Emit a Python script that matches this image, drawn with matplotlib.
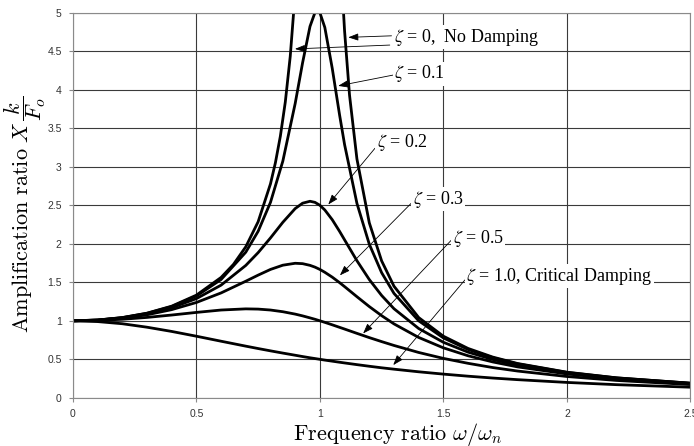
import matplotlib
matplotlib.use("Agg")
import matplotlib.pyplot as plt

# frequency ratio samples for the damped curves
r = [0, 0.1, 0.2, 0.3, 0.4, 0.5, 0.6, 0.7, 0.75, 0.8, 0.85, 0.9, 0.93, 0.96, 0.98, 1.0,
     1.02, 1.05, 1.08, 1.1, 1.15, 1.2, 1.25, 1.3, 1.4, 1.5, 1.6, 1.7, 1.8, 2.0, 2.2, 2.5]

zeta_01 = [1.000, 1.010, 1.041, 1.097, 1.185, 1.322, 1.536, 1.891, 2.162, 2.538, 3.073, 3.821, 4.350, 4.822, 5.001, 5.000,
           4.809, 4.279, 3.668, 3.288, 2.525, 1.995, 1.625, 1.356, 1.000, 0.778, 0.628, 0.521, 0.441, 0.330, 0.259, 0.190]
zeta_02 = [1.000, 1.009, 1.038, 1.090, 1.170, 1.288, 1.463, 1.719, 1.885, 2.076, 2.279, 2.457, 2.527, 2.552, 2.538, 2.500,
           2.439, 2.313, 2.160, 2.051, 1.780, 1.536, 1.329, 1.157, 0.900, 0.721, 0.593, 0.498, 0.425, 0.322, 0.254, 0.187]
zeta_03 = [1.000, 1.008, 1.034, 1.078, 1.145, 1.238, 1.362, 1.514, 1.593, 1.667, 1.722, 1.747, 1.742, 1.720, 1.697, 1.667,
           1.630, 1.567, 1.495, 1.444, 1.313, 1.185, 1.067, 0.960, 0.784, 0.649, 0.546, 0.466, 0.402, 0.310, 0.246, 0.183]
zeta_05 = [1.000, 1.005, 1.020, 1.044, 1.075, 1.109, 1.140, 1.155, 1.152, 1.140, 1.118, 1.087, 1.064, 1.038, 1.020, 1.000,
           0.980, 0.948, 0.915, 0.893, 0.837, 0.782, 0.730, 0.680, 0.589, 0.512, 0.448, 0.393, 0.348, 0.277, 0.226, 0.172]
zeta_10 = [1.000, 0.990, 0.962, 0.917, 0.862, 0.800, 0.735, 0.671, 0.640, 0.610, 0.581, 0.553, 0.536, 0.520, 0.510, 0.500,
           0.490, 0.476, 0.462, 0.453, 0.431, 0.410, 0.390, 0.372, 0.338, 0.308, 0.281, 0.257, 0.236, 0.200, 0.171, 0.138]

# undamped curve, two branches either side of resonance
r_undamped_lo = [0, 0.1, 0.2, 0.3, 0.4, 0.5, 0.6, 0.65, 0.7, 0.75, 0.8, 0.82, 0.84, 0.86, 0.88, 0.9]
zeta_0_lo = [1.000, 1.010, 1.042, 1.099, 1.190, 1.333, 1.563, 1.732, 1.961, 2.286, 2.778, 3.053, 3.397, 3.840, 4.433, 5.263]
r_undamped_hi = [1.09, 1.1, 1.12, 1.15, 1.2, 1.25, 1.3, 1.4, 1.5, 1.6, 1.7, 1.8, 2.0, 2.2, 2.5]
zeta_0_hi = [5.322, 4.762, 3.931, 3.101, 2.273, 1.778, 1.449, 1.042, 0.800, 0.641, 0.529, 0.446, 0.333, 0.260, 0.190]

xticks = [0, 0.5, 1, 1.5, 2, 2.5]
xticklabels = ["0", "0.5", "1", "1.5", "2", "2.5"]
yticks = [0, 0.5, 1, 1.5, 2, 2.5, 3, 3.5, 4, 4.5, 5]
yticklabels = ["0", "0.5", "1", "1.5", "2", "2.5", "3", "3.5", "4", "4.5", "5"]

fig = plt.figure(figsize=(6.94, 4.46), dpi=100)
ax = fig.add_axes([0.105, 0.108, 0.8898, 0.8635])

lw = 2.0
ax.plot(r_undamped_lo, zeta_0_lo, color="black", lw=lw, solid_capstyle="butt")
ax.plot(r_undamped_hi, zeta_0_hi, color="black", lw=lw, solid_capstyle="butt")
for ys in [zeta_01, zeta_02, zeta_03, zeta_05, zeta_10]:
    ax.plot(r, ys, color="black", lw=lw)

ax.set_xlim(0, 2.5)
ax.set_ylim(0, 5)
ax.set_xticks(xticks)
ax.set_xticklabels(xticklabels)
ax.set_yticks(yticks)
ax.set_yticklabels(yticklabels)
ax.grid(True, color="#3a3a3a", lw=0.8)
ax.set_axisbelow(True)
for s in ax.spines.values():
    s.set_color("#8a8a8a")
    s.set_linewidth(0.8)
ax.tick_params(direction="out", length=3, width=0.8, color="#8a8a8a",
               labelsize=7.5, pad=5)
for lab in ax.get_xticklabels() + ax.get_yticklabels():
    lab.set_family("Liberation Sans")
    lab.set_color("#333333")

fig.text(398 / 694, 1 - 434 / 446, r"$\mathrm{Frequency\ ratio}\ \omega/\omega_n$",
         fontsize=16, ha="center", va="center", math_fontfamily="cm")
fig.text(25 / 694, 0.52, r"$\mathrm{Amplification\ ratio}\ X\,\dfrac{k}{F_o}$",
         fontsize=16, ha="center", va="center", rotation=90, math_fontfamily="cm")

# annotations
tfont = dict(family="Liberation Serif", math_fontfamily="stix", fontsize=13,
             ha="left", va="center", zorder=5,
             bbox=dict(fc="white", ec="none", pad=1.0))
arrow = dict(arrowstyle="-|>,head_length=0.5,head_width=0.18", color="black",
             lw=0.6, shrinkA=0, shrinkB=0, mutation_scale=12)

ax.text(1.30, 4.68, r"$\zeta$ = 0,  No Damping", **tfont)
ax.annotate("", xy=(1.115, 4.68), xytext=(1.29, 4.70), arrowprops=arrow)
ax.annotate("", xy=(0.899, 4.53), xytext=(1.283, 4.58), arrowprops=arrow)

ax.text(1.30, 4.21, r"$\zeta$ = 0.1", **tfont)
ax.annotate("", xy=(1.074, 4.05), xytext=(1.296, 4.19), arrowprops=arrow)

ax.text(1.23, 3.31, r"$\zeta$ = 0.2", **tfont)
ax.annotate("", xy=(1.034, 2.51), xytext=(1.223, 3.24), arrowprops=arrow)

ax.text(1.376, 2.58, r"$\zeta$ = 0.3", **tfont)
ax.annotate("", xy=(1.081, 1.59), xytext=(1.371, 2.53), arrowprops=arrow)

ax.text(1.538, 2.07, r"$\zeta$ = 0.5", **tfont)
ax.annotate("", xy=(1.175, 0.836), xytext=(1.533, 2.05), arrowprops=arrow)

ax.text(1.593, 1.58, r"$\zeta$ = 1.0, Critical Damping", **tfont)
ax.annotate("", xy=(1.297, 0.425), xytext=(1.587, 1.53), arrowprops=arrow)

plt.savefig("out.png", dpi=100)
